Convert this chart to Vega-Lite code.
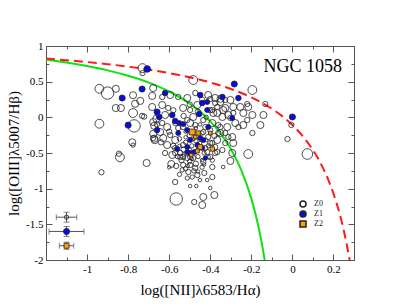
{
  "$schema": "https://vega.github.io/schema/vega-lite/v6.json",
  "width": 308,
  "height": 214,
  "autosize": {"type": "none"},
  "padding": {"left": 46, "top": 46, "right": 44, "bottom": 47},
  "background": "white",
  "config": {
    "view": {"stroke": null},
    "axis": {"grid": false, "domainColor": "#555", "tickColor": "#555", "labelColor": "black", "labelFont": "Liberation Serif", "labelFontSize": 11, "titleFont": "Liberation Serif", "titleFontSize": 15, "titleFontWeight": "normal", "titleColor": "black", "labelOverlap": false, "labelFlush": false}
  },
  "datasets": {
    "kauff": [
      {"x": -1.2, "y": 0.812}, {"x": -1.1, "y": 0.770}, {"x": -1.0, "y": 0.719}, {"x": -0.9, "y": 0.658},
      {"x": -0.8, "y": 0.582}, {"x": -0.7, "y": 0.487}, {"x": -0.6, "y": 0.362}, {"x": -0.5, "y": 0.191},
      {"x": -0.45, "y": 0.080}, {"x": -0.4, "y": -0.056}, {"x": -0.35, "y": -0.225}, {"x": -0.3, "y": -0.443},
      {"x": -0.25, "y": -0.733}, {"x": -0.2, "y": -1.140}, {"x": -0.175, "y": -1.411}, {"x": -0.15, "y": -1.750},
      {"x": -0.13, "y": -2.089}
    ],
    "kew": [
      {"x": -1.2, "y": 0.825}, {"x": -1.1, "y": 0.801}, {"x": -1.0, "y": 0.775}, {"x": -0.9, "y": 0.745},
      {"x": -0.8, "y": 0.710}, {"x": -0.7, "y": 0.669}, {"x": -0.6, "y": 0.620}, {"x": -0.5, "y": 0.561},
      {"x": -0.4, "y": 0.489}, {"x": -0.3, "y": 0.398}, {"x": -0.2, "y": 0.280}, {"x": -0.15, "y": 0.206},
      {"x": -0.1, "y": 0.120}, {"x": -0.05, "y": 0.017}, {"x": 0.0, "y": -0.108}, {"x": 0.05, "y": -0.262},
      {"x": 0.1, "y": -0.459}, {"x": 0.125, "y": -0.578}, {"x": 0.15, "y": -0.716}, {"x": 0.175, "y": -0.878},
      {"x": 0.2, "y": -1.069}, {"x": 0.225, "y": -1.300}, {"x": 0.25, "y": -1.583}, {"x": 0.26, "y": -1.715},
      {"x": 0.27, "y": -1.860}, {"x": 0.28, "y": -2.020}
    ],
    "err": [
      {"g": "Z0", "x": -1.1, "y": -1.4, "xlo": -1.15, "xhi": -1.05, "ylo": -1.47, "yhi": -1.33, "f": 6},
      {"g": "Z1", "x": -1.1, "y": -1.6, "xlo": -1.185, "xhi": -1.015, "ylo": -1.67, "yhi": -1.53, "f": 12},
      {"g": "Z2", "x": -1.1, "y": -1.8, "xlo": -1.135, "xhi": -1.065, "ylo": -1.85, "yhi": -1.75, "f": 8}
    ],
    "pts": [
      {"g":"Z0","x":-0.94,"y":0.40,"f":25},{"g":"Z0","x":-0.90,"y":0.34,"f":49},{"g":"Z0","x":-0.86,"y":0.40,"f":16},
      {"g":"Z0","x":-0.86,"y":0.13,"f":16},{"g":"Z0","x":-0.835,"y":0.13,"f":16},{"g":"Z0","x":-0.94,"y":-0.09,"f":25},
      {"g":"Z0","x":-0.73,"y":0.69,"f":25},{"g":"Z0","x":-0.73,"y":0.62,"f":9},{"g":"Z0","x":-0.776,"y":0.31,"f":16},
      {"g":"Z0","x":-0.766,"y":0.19,"f":16},{"g":"Z0","x":-0.776,"y":0.06,"f":25},{"g":"Z0","x":-0.732,"y":0.02,"f":9},
      {"g":"Z0","x":-0.722,"y":0.01,"f":9},{"g":"Z0","x":-0.741,"y":0.23,"f":16},{"g":"Z0","x":-0.683,"y":0.30,"f":16},
      {"g":"Z0","x":-0.678,"y":0.41,"f":16},{"g":"Z0","x":-0.78,"y":-0.35,"f":16},{"g":"Z0","x":-0.776,"y":-0.39,"f":6},
      {"g":"Z0","x":-0.771,"y":-0.12,"f":49},{"g":"Z0","x":-0.663,"y":-0.02,"f":16},{"g":"Z0","x":-0.673,"y":-0.12,"f":16},
      {"g":"Z0","x":-0.678,"y":-0.23,"f":16},{"g":"Z0","x":-0.673,"y":-0.30,"f":16},{"g":"Z0","x":-0.84,"y":-0.56,"f":25},
      {"g":"Z0","x":-0.845,"y":-0.51,"f":9},{"g":"Z0","x":-0.93,"y":-0.77,"f":9},{"g":"Z0","x":-0.71,"y":-0.64,"f":16},
      {"g":"Z0","x":-0.67,"y":-0.32,"f":16},
      {"g":"Z0","x":-0.634,"y":0.285,"f":9},{"g":"Z0","x":-0.595,"y":0.313,"f":16},{"g":"Z0","x":-0.556,"y":0.285,"f":9},
      {"g":"Z0","x":-0.512,"y":0.271,"f":16},{"g":"Z0","x":-0.473,"y":0.341,"f":9},{"g":"Z0","x":-0.410,"y":0.313,"f":16},
      {"g":"Z0","x":-0.376,"y":0.271,"f":16},{"g":"Z0","x":-0.35,"y":0.26,"f":16},{"g":"Z0","x":-0.302,"y":0.243,"f":16},
      {"g":"Z0","x":-0.288,"y":0.145,"f":16},{"g":"Z0","x":-0.327,"y":0.131,"f":16},{"g":"Z0","x":-0.366,"y":0.145,"f":9},
      {"g":"Z0","x":-0.385,"y":0.061,"f":16},{"g":"Z0","x":-0.341,"y":0.005,"f":16},{"g":"Z0","x":-0.302,"y":-0.009,"f":9},
      {"g":"Z0","x":-0.278,"y":-0.080,"f":16},{"g":"Z0","x":-0.317,"y":-0.136,"f":16},{"g":"Z0","x":-0.361,"y":-0.108,"f":9},
      {"g":"Z0","x":-0.390,"y":-0.080,"f":16},{"g":"Z0","x":-0.351,"y":-0.220,"f":16},{"g":"Z0","x":-0.312,"y":-0.276,"f":9},
      {"g":"Z0","x":-0.288,"y":-0.360,"f":16},{"g":"Z0","x":-0.327,"y":-0.360,"f":9},{"g":"Z0","x":-0.366,"y":-0.318,"f":16},
      {"g":"Z0","x":-0.341,"y":-0.458,"f":9},{"g":"Z0","x":-0.293,"y":-0.500,"f":16},{"g":"Z0","x":-0.376,"y":-0.500,"f":9},
      {"g":"Z0","x":-0.400,"y":-0.556,"f":9},{"g":"Z0","x":-0.683,"y":0.145,"f":16},{"g":"Z0","x":-0.634,"y":0.173,"f":16},
      {"g":"Z0","x":-0.605,"y":0.131,"f":9},{"g":"Z0","x":-0.620,"y":0.033,"f":16},{"g":"Z0","x":-0.678,"y":-0.066,"f":16},
      {"g":"Z0","x":-0.634,"y":-0.080,"f":9},{"g":"Z0","x":-0.610,"y":-0.136,"f":16},{"g":"Z0","x":-0.644,"y":-0.206,"f":16},
      {"g":"Z0","x":-0.678,"y":-0.290,"f":9},{"g":"Z0","x":-0.629,"y":-0.290,"f":16},{"g":"Z0","x":-0.595,"y":-0.248,"f":9},
      {"g":"Z0","x":-0.571,"y":-0.318,"f":16},{"g":"Z0","x":-0.610,"y":-0.388,"f":16},{"g":"Z0","x":-0.571,"y":-0.430,"f":9},
      {"g":"Z0","x":-0.532,"y":-0.388,"f":9},{"g":"Z0","x":-0.546,"y":-0.500,"f":9},{"g":"Z0","x":-0.585,"y":-0.528,"f":16},
      {"g":"Z0","x":-0.532,"y":-0.556,"f":9},{"g":"Z0","x":-0.498,"y":-0.556,"f":9},{"g":"Z0","x":-0.483,"y":-0.570,"f":9},
      {"g":"Z0","x":-0.556,"y":-0.150,"f":9},{"g":"Z0","x":-0.532,"y":-0.136,"f":9},{"g":"Z0","x":-0.498,"y":-0.080,"f":16},
      {"g":"Z0","x":-0.473,"y":-0.108,"f":9},{"g":"Z0","x":-0.512,"y":-0.038,"f":9},{"g":"Z0","x":-0.483,"y":0.005,"f":16},
      {"g":"Z0","x":-0.532,"y":0.131,"f":16},{"g":"Z0","x":-0.498,"y":0.103,"f":9},{"g":"Z0","x":-0.463,"y":0.173,"f":16},
      {"g":"Z0","x":-0.434,"y":-0.038,"f":9},{"g":"Z0","x":-0.424,"y":-0.136,"f":9},{"g":"Z0","x":-0.434,"y":-0.206,"f":9},
      {"g":"Z0","x":-0.410,"y":-0.276,"f":9},{"g":"Z0","x":-0.390,"y":-0.360,"f":9},{"g":"Z0","x":-0.415,"y":-0.486,"f":9},
      {"g":"Z0","x":-0.571,"y":-0.500,"f":9},{"g":"Z0","x":-0.546,"y":-0.556,"f":9},{"g":"Z0","x":-0.512,"y":-0.570,"f":9},
      {"g":"Z0","x":-0.532,"y":-0.668,"f":9},{"g":"Z0","x":-0.498,"y":-0.668,"f":9},{"g":"Z0","x":-0.473,"y":-0.710,"f":9},
      {"g":"Z0","x":-0.507,"y":-0.766,"f":9},{"g":"Z0","x":-0.537,"y":-0.738,"f":6},{"g":"Z0","x":-0.463,"y":-0.809,"f":9},
      {"g":"Z0","x":-0.488,"y":-0.837,"f":6},{"g":"Z0","x":-0.512,"y":-0.851,"f":6},{"g":"Z0","x":-0.434,"y":-0.626,"f":9},
      {"g":"Z0","x":-0.410,"y":-0.556,"f":6},{"g":"Z0","x":-0.366,"y":-0.486,"f":9},{"g":"Z0","x":-0.390,"y":-0.696,"f":9},
      {"g":"Z0","x":-0.590,"y":-0.654,"f":16},{"g":"Z0","x":-0.566,"y":-0.682,"f":9},{"g":"Z0","x":-0.571,"y":-0.907,"f":9},
      {"g":"Z0","x":-0.498,"y":-0.963,"f":4},{"g":"Z0","x":-0.468,"y":-0.963,"f":4},{"g":"Z0","x":-0.415,"y":-0.879,"f":4},
      {"g":"Z0","x":-0.390,"y":-0.837,"f":9},{"g":"Z0","x":-0.400,"y":-0.991,"f":4},{"g":"Z0","x":-0.337,"y":-0.696,"f":4},
      {"g":"Z0","x":-0.302,"y":-0.612,"f":16},{"g":"Z0","x":-0.429,"y":-0.780,"f":9},{"g":"Z0","x":-0.380,"y":-1.089,"f":16},
      {"g":"Z0","x":-0.434,"y":-1.117,"f":16},{"g":"Z0","x":-0.439,"y":-1.229,"f":16},{"g":"Z0","x":-0.478,"y":-1.187,"f":9},
      {"g":"Z0","x":-0.566,"y":-1.145,"f":49},{"g":"Z0","x":-0.215,"y":-0.514,"f":25},
      {"g":"Z0","x":-0.400,"y":0.257,"f":9},{"g":"Z0","x":-0.376,"y":0.201,"f":9},{"g":"Z0","x":-0.351,"y":0.215,"f":16},
      {"g":"Z0","x":-0.327,"y":0.243,"f":9},{"g":"Z0","x":-0.390,"y":0.103,"f":9},{"g":"Z0","x":-0.366,"y":0.061,"f":16},
      {"g":"Z0","x":-0.337,"y":0.103,"f":16},{"g":"Z0","x":-0.312,"y":0.033,"f":16},{"g":"Z0","x":-0.288,"y":0.061,"f":9},
      {"g":"Z0","x":-0.254,"y":0.145,"f":16},{"g":"Z0","x":-0.239,"y":0.061,"f":16},{"g":"Z0","x":-0.215,"y":0.145,"f":16},
      {"g":"Z0","x":-0.195,"y":0.033,"f":16},{"g":"Z0","x":-0.220,"y":-0.038,"f":9},{"g":"Z0","x":-0.239,"y":-0.108,"f":16},
      {"g":"Z0","x":-0.263,"y":-0.136,"f":9},{"g":"Z0","x":-0.351,"y":-0.136,"f":9},{"g":"Z0","x":-0.327,"y":-0.220,"f":9},
      {"g":"Z0","x":-0.361,"y":-0.220,"f":9},{"g":"Z0","x":-0.293,"y":-0.276,"f":16},{"g":"Z0","x":-0.195,"y":-0.220,"f":9},
      {"g":"Z0","x":-0.156,"y":-0.108,"f":16},{"g":"Z0","x":-0.141,"y":0.033,"f":16},{"g":"Z0","x":-0.132,"y":0.187,"f":9},
      {"g":"Z0","x":-0.400,"y":-0.360,"f":9},{"g":"Z0","x":-0.376,"y":-0.416,"f":9},{"g":"Z0","x":-0.424,"y":-0.430,"f":9},
      {"g":"Z0","x":-0.195,"y":0.383,"f":25},{"g":"Z0","x":-0.483,"y":0.523,"f":25},{"g":"Z0","x":-0.005,"y":-0.108,"f":9},
      {"g":"Z0","x":-0.024,"y":-0.304,"f":9},{"g":"Z0","x":0.073,"y":-0.514,"f":36},{"g":"Z0","x":-0.220,"y":0.187,"f":9},
      {"g":"Z0","x":-0.55,"y":-0.30,"f":6},{"g":"Z0","x":-0.52,"y":-0.35,"f":6},{"g":"Z0","x":-0.50,"y":-0.25,"f":9},
      {"g":"Z0","x":-0.47,"y":-0.33,"f":6},{"g":"Z0","x":-0.44,"y":-0.22,"f":6},{"g":"Z0","x":-0.53,"y":-0.45,"f":9},
      {"g":"Z0","x":-0.49,"y":-0.40,"f":6},{"g":"Z0","x":-0.46,"y":-0.55,"f":6},{"g":"Z0","x":-0.43,"y":-0.50,"f":6},
      {"g":"Z0","x":-0.54,"y":-0.60,"f":9},{"g":"Z0","x":-0.50,"y":-0.62,"f":6},{"g":"Z0","x":-0.47,"y":-0.65,"f":9},
      {"g":"Z0","x":-0.44,"y":-0.70,"f":6},{"g":"Z0","x":-0.52,"y":-0.72,"f":6},{"g":"Z0","x":-0.56,"y":-0.55,"f":6},
      {"g":"Z0","x":-0.58,"y":-0.40,"f":9},{"g":"Z0","x":-0.60,"y":-0.20,"f":9},{"g":"Z0","x":-0.57,"y":-0.08,"f":9},
      {"g":"Z0","x":-0.53,"y":0.02,"f":9},{"g":"Z0","x":-0.46,"y":0.08,"f":9},{"g":"Z0","x":-0.42,"y":0.00,"f":6},
      {"g":"Z0","x":-0.40,"y":-0.18,"f":9},{"g":"Z0","x":-0.38,"y":-0.26,"f":9},{"g":"Z0","x":-0.41,"y":-0.40,"f":6},
      {"g":"Z0","x":-0.39,"y":-0.60,"f":6},{"g":"Z0","x":-0.48,"y":-0.75,"f":6},{"g":"Z0","x":-0.45,"y":-0.88,"f":4},
      {"g":"Z0","x":-0.55,"y":-0.80,"f":6},{"g":"Z0","x":-0.60,"y":-0.70,"f":4},{"g":"Z0","x":-0.62,"y":-0.50,"f":9},
      {"g":"Z0","x":-0.64,"y":-0.35,"f":9},{"g":"Z0","x":-0.66,"y":-0.10,"f":9},{"g":"Z0","x":-0.58,"y":0.10,"f":9},
      {"g":"Z0","x":-0.50,"y":0.18,"f":9},{"g":"Z0","x":-0.44,"y":0.25,"f":9},{"g":"Z0","x":-0.40,"y":0.10,"f":9},
      {"g":"Z0","x":-0.47,"y":-0.15,"f":4},{"g":"Z0","x":-0.45,"y":-0.10,"f":4},{"g":"Z0","x":-0.52,"y":-0.28,"f":4},
      {"g":"Z0","x":-0.48,"y":-0.30,"f":4},{"g":"Z0","x":-0.46,"y":-0.45,"f":4},{"g":"Z0","x":-0.50,"y":-0.45,"f":4},
      {"g":"Z0","x":-0.44,"y":-0.60,"f":4},{"g":"Z0","x":-0.49,"y":-0.58,"f":4},{"g":"Z0","x":-0.53,"y":-0.52,"f":4},
      {"g":"Z0","x":-0.42,"y":-0.32,"f":4},{"g":"Z0","x":-0.45,"y":-0.36,"f":4},{"g":"Z0","x":-0.51,"y":-0.68,"f":4},
      {"g":"Z0","x":-0.46,"y":-0.76,"f":4},{"g":"Z0","x":-0.43,"y":-0.66,"f":4},{"g":"Z0","x":-0.55,"y":-0.40,"f":4},
      {"g":"Z0","x":-0.52,"y":-0.20,"f":4},
      {"g":"Z1","x":-0.707,"y":0.678,"f":14},{"g":"Z1","x":-0.732,"y":0.397,"f":12},{"g":"Z1","x":-0.829,"y":0.271,"f":12},
      {"g":"Z1","x":-0.80,"y":-0.11,"f":12},{"g":"Z1","x":-0.620,"y":0.341,"f":10},{"g":"Z1","x":-0.449,"y":0.313,"f":10},
      {"g":"Z1","x":-0.439,"y":0.201,"f":10},{"g":"Z1","x":-0.415,"y":0.215,"f":8},{"g":"Z1","x":-0.341,"y":0.285,"f":10},
      {"g":"Z1","x":-0.283,"y":0.467,"f":12},{"g":"Z1","x":-0.263,"y":0.271,"f":10},{"g":"Z1","x":-0.293,"y":-0.009,"f":8},
      {"g":"Z1","x":0.0,"y":0.005,"f":12},{"g":"Z1","x":-0.659,"y":0.075,"f":12},{"g":"Z1","x":-0.649,"y":0.005,"f":10},
      {"g":"Z1","x":-0.585,"y":0.033,"f":10},{"g":"Z1","x":-0.571,"y":-0.051,"f":10},{"g":"Z1","x":-0.551,"y":-0.080,"f":8},
      {"g":"Z1","x":-0.532,"y":-0.094,"f":8},{"g":"Z1","x":-0.454,"y":0.047,"f":10},{"g":"Z1","x":-0.659,"y":-0.178,"f":10},
      {"g":"Z1","x":-0.556,"y":-0.220,"f":8},{"g":"Z1","x":-0.512,"y":-0.178,"f":8},{"g":"Z1","x":-0.498,"y":-0.318,"f":8},
      {"g":"Z1","x":-0.512,"y":-0.416,"f":8},{"g":"Z1","x":-0.561,"y":-0.444,"f":8},{"g":"Z1","x":-0.512,"y":-0.486,"f":8},
      {"g":"Z1","x":-0.498,"y":-0.500,"f":8},{"g":"Z1","x":-0.478,"y":-0.486,"f":8},{"g":"Z1","x":-0.463,"y":-0.388,"f":8},
      {"g":"Z1","x":-0.439,"y":-0.430,"f":8},{"g":"Z1","x":-0.424,"y":-0.570,"f":6},{"g":"Z1","x":-0.449,"y":-0.290,"f":8},
      {"g":"Z1","x":-0.410,"y":-0.136,"f":8},{"g":"Z1","x":-0.434,"y":-0.318,"f":8},{"g":"Z1","x":-0.415,"y":0.103,"f":8},
      {"g":"Z2","x":-0.488,"y":-0.206,"f":11},{"g":"Z2","x":-0.459,"y":-0.220,"f":6},{"g":"Z2","x":-0.473,"y":-0.276,"f":4},
      {"g":"Z2","x":-0.449,"y":-0.416,"f":7},{"g":"Z2","x":-0.463,"y":-0.472,"f":5},{"g":"Z2","x":-0.390,"y":-0.444,"f":6},
      {"g":"Z2","x":-0.493,"y":-0.528,"f":4},{"g":"Z2","x":-0.400,"y":-0.220,"f":4}
    ]
  },
  "layer": [
    {
      "data": {"name": "kauff"},
      "mark": {"type": "line", "color": "#11e011", "strokeWidth": 2, "clip": true, "interpolate": "monotone"},
      "encoding": {
        "x": {"field": "x", "type": "quantitative", "scale": {"domain": [-1.2, 0.3], "nice": false, "zero": false},
          "axis": {"orient": "bottom", "title": "log([NII]λ6583/Hα)", "titlePadding": 5,
            "values": [-1.2,-1.1,-1,-0.9,-0.8,-0.7,-0.6,-0.5,-0.4,-0.3,-0.2,-0.1,0,0.1,0.2,0.3],
            "labelExpr": "(abs(datum.value*5-round(datum.value*5))<0.001 && datum.value>-1.1 && datum.value<0.25) ? toString(datum.value) : ''",
            "tickSize": {"condition": {"test": "abs(datum.value*5-round(datum.value*5))<0.001", "value": -6}, "value": -3},
            "labelPadding": 9}},
        "y": {"field": "y", "type": "quantitative", "scale": {"domain": [-2, 1], "nice": false, "zero": false},
          "axis": {"orient": "left", "title": "log([OIII]λ5007/Hβ)", "titlePadding": 4,
            "values": [-2,-1.75,-1.5,-1.25,-1,-0.75,-0.5,-0.25,0,0.25,0.5,0.75,1],
            "labelExpr": "(abs(datum.value*2-round(datum.value*2))<0.001) ? toString(datum.value) : ''",
            "tickSize": {"condition": {"test": "abs(datum.value*2-round(datum.value*2))<0.001", "value": -6}, "value": -3},
            "labelPadding": 9}}
      }
    },
    {
      "data": {"name": "kew"},
      "mark": {"type": "line", "color": "#ff1a1a", "strokeWidth": 2, "strokeDash": [9, 5], "clip": true, "interpolate": "monotone"},
      "encoding": {
        "x": {"field": "x", "type": "quantitative",
          "axis": {"orient": "top", "title": null, "labels": false,
            "values": [-1.2,-1.1,-1,-0.9,-0.8,-0.7,-0.6,-0.5,-0.4,-0.3,-0.2,-0.1,0,0.1,0.2,0.3],
            "tickSize": {"condition": {"test": "abs(datum.value*5-round(datum.value*5))<0.001", "value": -6}, "value": -3}}},
        "y": {"field": "y", "type": "quantitative",
          "axis": {"orient": "right", "title": null, "labels": false,
            "values": [-2,-1.75,-1.5,-1.25,-1,-0.75,-0.5,-0.25,0,0.25,0.5,0.75,1],
            "tickSize": {"condition": {"test": "abs(datum.value*2-round(datum.value*2))<0.001", "value": -6}, "value": -3}}}
      }
    },
    {
      "data": {"name": "pts"},
      "mark": {"type": "point", "filled": true, "stroke": "#222", "strokeWidth": 0.8, "opacity": 1, "clip": true},
      "encoding": {
        "x": {"field": "x", "type": "quantitative", "axis": null},
        "y": {"field": "y", "type": "quantitative", "axis": null},
        "size": {"field": "f", "type": "quantitative", "scale": {"type": "linear", "domain": [0, 50], "range": [0, 157]}, "legend": null},
        "shape": {"field": "g", "type": "nominal", "scale": {"domain": ["Z0", "Z1", "Z2"], "range": ["circle", "circle", "square"]},
          "legend": {"orient": "none", "legendX": 253, "legendY": 154, "title": null, "padding": 0, "labelFont": "Liberation Serif", "labelFontSize": 8, "labelColor": "#222", "symbolSize": 36, "rowPadding": -5, "labelOffset": 7,
            "encode": {"symbols": {"update": {"stroke": {"value": "#222"}, "strokeWidth": {"value": 0.7}}}}}},
        "fill": {"field": "g", "type": "nominal", "scale": {"domain": ["Z0", "Z1", "Z2"], "range": ["transparent", "#0a0ae6", "#ffa00a"]}}
      }
    },
    {
      "data": {"name": "err"},
      "mark": {"type": "errorbar", "ticks": {"size": 6}, "color": "#555", "thickness": 1},
      "encoding": {
        "x": {"field": "xlo", "type": "quantitative", "axis": null},
        "x2": {"field": "xhi"},
        "y": {"field": "y", "type": "quantitative", "axis": null}
      }
    },
    {
      "data": {"name": "err"},
      "mark": {"type": "errorbar", "ticks": {"size": 6}, "color": "#555", "thickness": 1},
      "encoding": {
        "y": {"field": "ylo", "type": "quantitative", "axis": null},
        "y2": {"field": "yhi"},
        "x": {"field": "x", "type": "quantitative", "axis": null}
      }
    },
    {
      "data": {"name": "err"},
      "mark": {"type": "point", "filled": true, "stroke": "#222", "strokeWidth": 0.8, "opacity": 1},
      "encoding": {
        "x": {"field": "x", "type": "quantitative", "axis": null},
        "y": {"field": "y", "type": "quantitative", "axis": null},
        "size": {"field": "f", "type": "quantitative", "legend": null},
        "shape": {"field": "g", "type": "nominal"},
        "fill": {"field": "g", "type": "nominal"}
      }
    },
    {
      "data": {"values": [{"label": "NGC 1058", "x": 0.05, "y": 0.70}]},
      "mark": {"type": "text", "font": "Liberation Serif", "fontSize": 18, "align": "center", "baseline": "middle", "color": "black"},
      "encoding": {
        "x": {"field": "x", "type": "quantitative", "axis": null},
        "y": {"field": "y", "type": "quantitative", "axis": null},
        "text": {"field": "label"}
      }
    }
  ],
  "resolve": {"axis": {"x": "independent", "y": "independent"}}
}
